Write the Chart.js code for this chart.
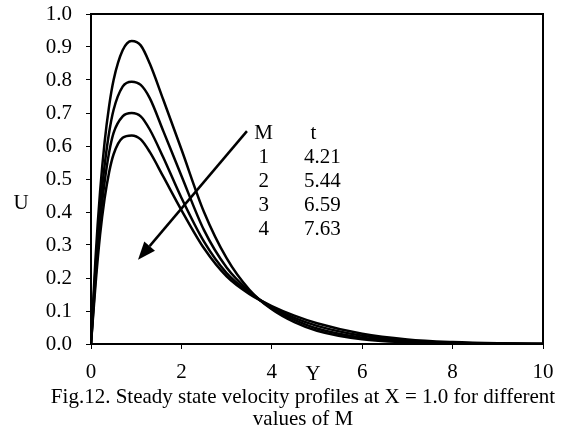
<!DOCTYPE html>
<html>
<head>
<meta charset="utf-8">
<script src="https://cdn.jsdelivr.net/npm/chart.js@4.4.0/dist/chart.umd.min.js"></script>
<style>
  body { margin: 0; background: #fff; }
</style>
</head>
<body>
<canvas id="velocity-chart" width="571" height="432"></canvas>
<script>
// Y positions
const yPos = [0, 0.1, 0.2, 0.3, 0.4, 0.5, 0.7, 0.9, 1.1, 1.3, 1.6, 2.0, 2.5, 3.0, 3.5, 4.0, 4.5, 5.0, 6.0, 7.0, 8.0, 9.0, 10.0];

// U values for each M
const uM1 = [0, 0.26, 0.46, 0.61, 0.72, 0.80, 0.89, 0.918, 0.905, 0.85, 0.74, 0.59, 0.40, 0.26, 0.165, 0.105, 0.066, 0.04, 0.014, 0.005, 0.002, 0.0005, 0];
const uM2 = [0, 0.23, 0.41, 0.54, 0.64, 0.71, 0.78, 0.795, 0.785, 0.745, 0.645, 0.51, 0.345, 0.232, 0.16, 0.108, 0.073, 0.047, 0.019, 0.007, 0.0025, 0.001, 0];
const uM3 = [0, 0.20, 0.37, 0.49, 0.58, 0.64, 0.69, 0.70, 0.69, 0.65, 0.565, 0.443, 0.31, 0.215, 0.156, 0.112, 0.079, 0.055, 0.025, 0.01, 0.004, 0.0015, 0];
const uM4 = [0, 0.18, 0.33, 0.44, 0.52, 0.575, 0.625, 0.632, 0.62, 0.582, 0.507, 0.406, 0.29, 0.205, 0.152, 0.115, 0.086, 0.063, 0.031, 0.014, 0.006, 0.002, 0.0005];

// table in the plot
const tableM = ['1', '2', '3', '4'];
const tableT = ['4.21', '5.44', '6.59', '7.63'];

const xTicks = [0, 2, 4, 6, 8, 10];
const captionLines = ['Fig.12. Steady state velocity profiles at X = 1.0 for different', 'values of M'];

const serif = '"Liberation Serif", "Times New Roman", serif';
Chart.defaults.font.family = serif;
Chart.defaults.color = '#000';

const toPoints = vals => yPos.map((y, i) => ({ x: y, y: vals[i] }));

const lineStyle = {
    borderColor: '#000',
    borderWidth: 2.5,
    pointRadius: 0,
    fill: false,
    cubicInterpolationMode: 'monotone',
};

// frame, arrow, labels, caption
const overlay = {
    id: 'overlay',
    afterDraw(chart) {
        const ctx = chart.ctx;
        const a = chart.chartArea;
        const xs = chart.scales.x;
        const ys = chart.scales.y;
        ctx.save();

        ctx.strokeStyle = '#000';
        ctx.lineWidth = 2;
        ctx.strokeRect(a.left, a.top, a.right - a.left, a.bottom - a.top);

        // arrow
        const x0 = xs.getPixelForValue(3.45), y0 = ys.getPixelForValue(0.645);
        const x1 = xs.getPixelForValue(1.04), y1 = ys.getPixelForValue(0.255);
        const ang = Math.atan2(y1 - y0, x1 - x0);
        const headLen = 18, headW = 7;
        const bx = x1 - headLen * Math.cos(ang), by = y1 - headLen * Math.sin(ang);
        ctx.lineWidth = 2.5;
        ctx.beginPath();
        ctx.moveTo(x0, y0);
        ctx.lineTo(bx, by);
        ctx.stroke();
        ctx.beginPath();
        ctx.moveTo(x1, y1);
        ctx.lineTo(bx + headW * Math.sin(ang), by - headW * Math.cos(ang));
        ctx.lineTo(bx - headW * Math.sin(ang), by + headW * Math.cos(ang));
        ctx.closePath();
        ctx.fillStyle = '#000';
        ctx.fill();

        // table
        ctx.font = '21px ' + serif;
        ctx.textBaseline = 'middle';
        ctx.textAlign = 'center';
        const colM = xs.getPixelForValue(3.82);
        const colT = xs.getPixelForValue(4.92);
        const colV = xs.getPixelForValue(5.12);
        ctx.fillText('M', colM, 133);
        ctx.fillText('t', colT, 133);
        tableM.forEach((m, i) => {
            const y = 157 + i * 24;
            ctx.fillText(m, colM, y);
            ctx.fillText(tableT[i], colV, y);
        });

        // axis titles
        ctx.fillText('U', 21, 203);
        ctx.fillText('Y', 313, 374);

        // caption
        ctx.fillText(captionLines[0], 303, 397);
        ctx.fillText(captionLines[1], 303, 419);
        ctx.restore();
    }
};

new Chart(document.getElementById('velocity-chart'), {
    type: 'line',
    data: {
        datasets: [
            { label: 'M = 1', data: toPoints(uM1), ...lineStyle },
            { label: 'M = 2', data: toPoints(uM2), ...lineStyle },
            { label: 'M = 3', data: toPoints(uM3), ...lineStyle },
            { label: 'M = 4', data: toPoints(uM4), ...lineStyle },
        ]
    },
    options: {
        responsive: false,
        animation: false,
        layout: { padding: { left: 0, top: 14, right: 28, bottom: 0 } },
        plugins: {
            legend: { display: false },
            tooltip: { enabled: false },
        },
        scales: {
            x: {
                type: 'linear',
                min: 0,
                max: 10,
                afterBuildTicks: scale => { scale.ticks = xTicks.map(v => ({ value: v })); },
                afterFit: scale => {
                    scale.height = 88;
                    scale.paddingLeft = 0;
                    scale.paddingRight = 0;
                },
                ticks: { font: { size: 21 }, padding: 11, maxRotation: 0 },
                grid: { drawOnChartArea: false, drawTicks: true, tickLength: 5, color: '#000', lineWidth: 1 },
                border: { display: true, color: '#000', width: 2 },
            },
            y: {
                min: 0,
                max: 1,
                afterFit: scale => {
                    scale.width = 91;
                    scale.paddingTop = 0;
                    scale.paddingBottom = 0;
                },
                ticks: { stepSize: 0.1, font: { size: 21 }, padding: 14, callback: v => v.toFixed(1) },
                grid: { drawOnChartArea: false, drawTicks: true, tickLength: 5, color: '#000', lineWidth: 1 },
                border: { display: true, color: '#000', width: 2 },
            }
        }
    },
    plugins: [overlay]
});
</script>
</body>
</html>
